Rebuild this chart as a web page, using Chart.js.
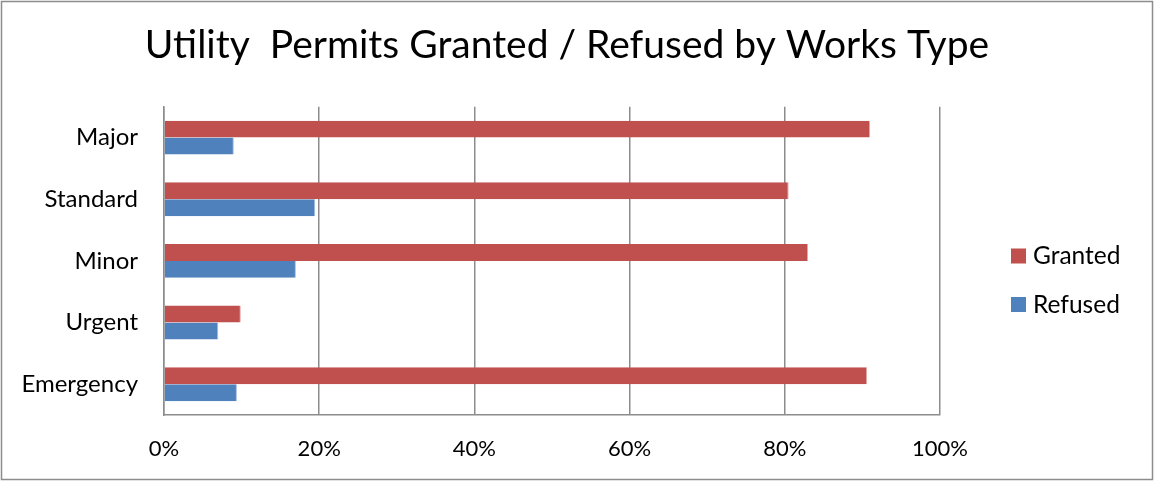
<!DOCTYPE html>
<html>
<head>
<meta charset="utf-8">
<script src="https://cdn.jsdelivr.net/npm/chart.js@4"></script>
<style>
  html, body { margin: 0; padding: 0; background: #fff; }
  #wrap { width: 1154px; height: 481px; position: relative; }
</style>
</head>
<body>
<div id="wrap"><canvas id="permitsChart"></canvas></div>
<script>
// Datos
const categories = ['Major', 'Standard', 'Minor', 'Urgent', 'Emergency'];
const granted = [91.0, 80.5, 83.0, 9.9, 90.6];
const refused = [9.0, 19.5, 17.0, 7.0, 9.4];
const xTicks = [0, 20, 40, 60, 80, 100];

const fontFamily = 'Lato, "Open Sans", sans-serif';

// Marco gris alrededor de todo el gráfico
const framePlugin = {
    id: 'frame',
    beforeDraw(chart) {
        const c = chart.ctx;
        c.save();
        c.fillStyle = '#fff';
        c.fillRect(0, 0, chart.width, chart.height);
        c.strokeStyle = '#8c8c8c';
        c.lineWidth = 1.5;
        c.strokeRect(1.5, 1.5, chart.width - 3, chart.height - 3);
        c.restore();
    }
};

// Leyenda a la derecha, dibujada a mano para colocarla igual que el original
const sideLegend = {
    id: 'sideLegend',
    afterDraw(chart) {
        const c = chart.ctx;
        c.save();
        c.font = '24.5px ' + fontFamily;
        c.textBaseline = 'middle';
        chart.data.datasets.forEach(function(ds, i) {
            const y = 255.5 + i * 48.5;
            c.fillStyle = ds.backgroundColor;
            c.fillRect(1011, y - 7, 15, 15);
            c.fillStyle = '#000';
            c.fillText(ds.label, 1033, y + 1);
        });
        c.restore();
    }
};

function drawChart() {
    new Chart(document.getElementById('permitsChart').getContext('2d'), {
        type: 'bar',
        data: {
            labels: categories,
            datasets: [{
                label: 'Granted',
                data: granted,
                backgroundColor: '#C0504D',
                borderColor: '#E3A9A8',
                borderWidth: { right: 1, top: 0, bottom: 0, left: 0 },
                categoryPercentage: 0.55,
                barPercentage: 1.0
            }, {
                label: 'Refused',
                data: refused,
                backgroundColor: '#4F81BD',
                borderColor: '#A9C1DE',
                borderWidth: { right: 1, top: 0, bottom: 0, left: 0 },
                categoryPercentage: 0.55,
                barPercentage: 1.0
            }]
        },
        options: {
            indexAxis: 'y',
            responsive: true,
            maintainAspectRatio: false,
            animation: false,
            layout: {
                padding: { left: 20, right: 40, top: 0, bottom: 19 }
            },
            scales: {
                x: {
                    min: 0,
                    max: 100,
                    afterBuildTicks(axis) {
                        axis.ticks = xTicks.map(v => ({ value: v }));
                    },
                    afterFit(axis) {
                        axis.height = 47;
                    },
                    grid: {
                        color: '#8c8c8c',
                        lineWidth: 1.5,
                        drawTicks: false
                    },
                    border: { color: '#8c8c8c', width: 1.5 },
                    ticks: {
                        color: '#000',
                        padding: 21,
                        maxRotation: 0,
                        font: { family: fontFamily, size: 22 },
                        callback: v => v + '%'
                    }
                },
                y: {
                    afterFit(axis) {
                        axis.width = 144;
                    },
                    grid: { display: false, drawTicks: false },
                    border: { color: '#8c8c8c', width: 1.5 },
                    ticks: {
                        color: '#000',
                        padding: 26,
                        font: { family: fontFamily, size: 24 }
                    }
                },
                // eje vacío a la derecha: deja sitio para la leyenda
                legendSpace: {
                    type: 'category',
                    position: 'right',
                    grid: { display: false, drawTicks: false },
                    border: { display: false },
                    ticks: { display: false },
                    afterFit(axis) {
                        axis.width = 174;
                    }
                }
            },
            plugins: {
                legend: { display: false },
                tooltip: { enabled: false },
                title: {
                    display: true,
                    text: 'Utility  Permits Granted / Refused by Works Type',
                    color: '#000',
                    font: { family: fontFamily, size: 39, weight: 'normal' },
                    padding: { top: 22, bottom: 38 }
                }
            }
        },
        plugins: [framePlugin, sideLegend]
    });
}

// esperar a que la fuente esté lista para medir bien los textos
Promise.all([
    document.fonts.load('24px Lato'),
    document.fonts.load('39px Lato')
]).then(drawChart, drawChart);
</script>
</body>
</html>
